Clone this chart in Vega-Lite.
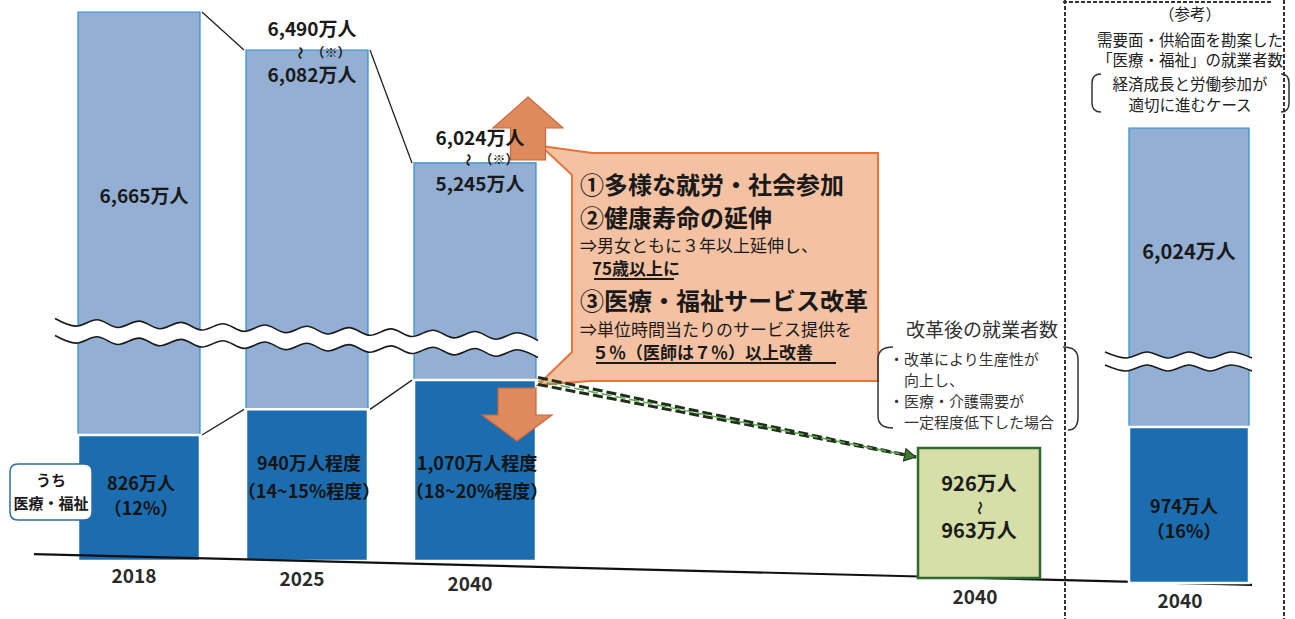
{
"$schema": "https://vega.github.io/schema/vega-lite/v6.json",
"width": 1295, "height": 619, "padding": 0, "autosize": {"type": "none"},
"background": "white",
"config": {"view": {"stroke": null}, "font": "Noto Sans CJK JP"},
"datasets": {
"bars": [{"slot":"2018","total":6665,"med":826},{"slot":"2025","total":6082,"med":940},{"slot":"2040","total":5245,"med":1070}],
"wavesM": [{"slot":"s1","up":2306,"lo":1932},{"slot":"s2","up":2138,"lo":1764},{"slot":"s3","up":2278,"lo":1904},{"slot":"s4","up":2109,"lo":1735},{"slot":"2018","up":2249,"lo":1875},{"slot":"s6","up":2081,"lo":1707},{"slot":"s7","up":2220,"lo":1847},{"slot":"s8","up":2052,"lo":1678},{"slot":"s9","up":2192,"lo":1818},{"slot":"s10","up":2023,"lo":1649},{"slot":"s11","up":2163,"lo":1789},{"slot":"s12","up":1995,"lo":1621},{"slot":"2025","up":2135,"lo":1761},{"slot":"s14","up":1966,"lo":1592},{"slot":"s15","up":2106,"lo":1732},{"slot":"s16","up":1937,"lo":1563},{"slot":"s17","up":2077,"lo":1704},{"slot":"s18","up":1909,"lo":1535},{"slot":"s19","up":2049,"lo":1675},{"slot":"s20","up":1880,"lo":1506},{"slot":"2040","up":2020,"lo":1646},{"slot":"s22","up":1851,"lo":1477},{"slot":"s23","up":1992,"lo":1618},{"slot":"s24","up":1822,"lo":1449}],
"links": [{"slot":"s8","slot2":"s10","v":6665,"v2":6082},{"slot":"s16","slot2":"s18","v":6082,"v2":5245},{"slot":"s8","slot2":"s10","v":826,"v2":940},{"slot":"s16","slot2":"s18","v":940,"v2":1070}],
"baseline": [{"slot":"s0","slot2":"s58","v":66,"v2":-227}],
"callout": [{"slot":"s33","v":3439}],
"arrowUp": [{"slot":"s24","v":5504}],
"arrowDown": [{"slot":"s23","v":915}],
"toReform": [{"slot":"s24","slot2":"s42","v":1066,"v2":728}],
"toReformHead": [{"slot":"s42","v":728}],
"lightLabels": [{"slot":"2018","v":4978,"t":"6,665万人"},{"slot":"2025","v":6389,"t":"6,490万人"},{"slot":"2025","v":5889,"t":"6,082万人"},{"slot":"2040","v":5422,"t":"6,024万人"},{"slot":"2040","v":5082,"t":"5,245万人"}],
"rangeTilde": [{"slot":"2025","v":6060,"t":"〜"},{"slot":"2040","v":5267,"t":"〜"}],
"rangeNote": [{"slot":"2025","v":6060,"t":"（※）"},{"slot":"2040","v":5267,"t":"（※）"}],
"darkLabels": [{"slot":"2018","v":604,"t":"826万人"},{"slot":"2018","v":484,"t":"（12%）"},{"slot":"2025","v":693,"t":"940万人程度"},{"slot":"2025","v":568,"t":"（14~15%程度）"},{"slot":"2040","v":693,"t":"1,070万人程度"},{"slot":"2040","v":568,"t":"（18~20%程度）"}],
"yearsM": [{"slot":"2018","v":-152,"t":"2018"},{"slot":"2025","v":-180,"t":"2025"},{"slot":"2040","v":-228,"t":"2040"}],
"calloutHead": [{"slot":"s26","v":5067,"t":"①多様な就労・社会参加"},{"slot":"s26","v":4472,"t":"②健康寿命の延伸"},{"slot":"s26","v":2647,"t":"③医療・福祉サービス改革"}],
"calloutBody": [{"slot":"s26","v":3878,"t":"⇒男女ともに３年以上延伸し、"},{"slot":"s26","v":2031,"t":"⇒単位時間当たりのサービス提供を"}],
"calloutEmph": [{"slot":"s26","v":3373,"t":"75歳以上に"},{"slot":"s26","v":1525,"t":"５％（医師は７％）以上改善"}],
"underline1": [{"slot":"s29","v":3175}],
"underline2": [{"slot":"s33","v":1328}],
"reformTitle": [{"slot":"2040改革後","v":2031,"t":"改革後の就業者数"}],
"reformBullets": [{"slot":"s41","v":1394,"t":"・改革により生産性が"},{"slot":"s41","v":973,"t":"・医療・介護需要が"}],
"reformCont": [{"slot":"s41","v":1066,"t":"向上し、"},{"slot":"s41","v":879,"t":"一定程度低下した場合"}],
"bracketL": [{"slot":"s41","v":1035}],
"bracketR": [{"slot":"s49","v":1035}],
"uchiBox": [{"slot":"s1","v":573}],
"uchiText": [{"slot":"s1","v":621,"t":"うち"},{"slot":"s1","v":519,"t":"医療・福祉"}],
"reform": [{"slot":"2040改革後","low":926,"high":963}],
"reformLabels": [{"slot":"2040改革後","v":689,"t":"926万人"},{"slot":"2040改革後","v":341,"t":"963万人"}],
"reformTilde": [{"slot":"2040改革後","v":519,"t":"〜"}],
"yearR": [{"slot":"2040改革後","v":-148,"t":"2040"}],
"refbar": [{"slot":"2040参考","total":6024,"med":974}],
"wavesF": [{"slot":"s51","up":2181,"lo":1880},{"slot":"s52","up":2042,"lo":1741},{"slot":"s53","up":2181,"lo":1880},{"slot":"s54","up":2042,"lo":1741},{"slot":"2040参考","up":2181,"lo":1880},{"slot":"s56","up":2042,"lo":1741},{"slot":"s57","up":2181,"lo":1880},{"slot":"s58","up":2042,"lo":1741}],
"refLight": [{"slot":"2040参考","v":4476,"t":"6,024万人"}],
"refDark": [{"slot":"2040参考","v":614,"t":"974万人"},{"slot":"2040参考","v":503,"t":"（16%）"}],
"yearF": [{"slot":"2040参考","v":-192,"t":"2040"}],
"refHeader": [{"slot":"2040参考","v":7154,"t":"（参考）"},{"slot":"2040参考","v":6894,"t":"需要面・供給面を勘案した"},{"slot":"2040参考","v":6694,"t":"「医療・福祉」の就業者数"},{"slot":"2040参考","v":6454,"t":"経済成長と労働参加が"},{"slot":"2040参考","v":6244,"t":"適切に進むケース"}],
"frameL": [{"slot":"s49"}],
"frameR": [{"slot":"s59"}],
"frameTop": [{"slot":"s49","slot2":"s59","v":7284}],
"refBracketL": [{"slot":"s51","v":6374}],
"refBracketR": [{"slot":"s59","v":6374}]
},
"encoding": {"x": {"field": "slot", "type": "ordinal", "sort": null, "axis": null,
  "scale": {"domain": ["s0","s1","s2","s3","s4","2018","s6","s7","s8","s9","s10","s11","s12","2025","s14","s15","s16","s17","s18","s19","s20","2040","s22","s23","s24","s25","s26","s27","s28","s29","s30","s31","s32","s33","s34","s35","s36","s37","s38","s39","s40","s41","s42","s43","s44","2040改革後","s46","s47","s48","s49","s50","s51","s52","s53","s54","2040参考","s56","s57","s58","s59"], "range": [23.5, 1283.5], "paddingInner": 0, "paddingOuter": 0}}},
"layer": [
{"layer": [
 {"data":{"name":"bars"},"mark":{"type":"bar","width":122,"fill":"#93afd4","stroke":"#2a8fcf","strokeWidth":1.2},"encoding":{"y":{"field":"total","type":"quantitative","axis":null,"scale":{"domain":[0,500,1100,5000,6082,7000],"range":[561,508.35,373.35,196,50,-9.8],"nice":false,"zero":false}},"y2":{"field":"med"}}},
 {"data":{"name":"bars"},"mark":{"type":"bar","width":122,"fill":"#1c6db0","stroke":"#ffffff","strokeWidth":2.5},"encoding":{"y":{"field":"med","type":"quantitative","axis":null,"scale":{"domain":[0,500,1100,5000,6082,7000],"range":[561,508.35,373.35,196,50,-9.8],"nice":false,"zero":false}},"y2":{"datum":0}}},
 {"data":{"name":"wavesM"},"mark":{"type":"area","interpolate":"monotone","fill":"#ffffff","opacity":1},"encoding":{"y":{"field":"up","type":"quantitative","axis":null,"scale":{"domain":[0,500,1100,5000,6082,7000],"range":[561,508.35,373.35,196,50,-9.8],"nice":false,"zero":false}},"y2":{"field":"lo"}}},
 {"data":{"name":"wavesM"},"mark":{"type":"line","interpolate":"monotone","stroke":"#1a1a1a","strokeWidth":1.6},"encoding":{"y":{"field":"up","type":"quantitative","axis":null,"scale":{"domain":[0,500,1100,5000,6082,7000],"range":[561,508.35,373.35,196,50,-9.8],"nice":false,"zero":false}}}},
 {"data":{"name":"wavesM"},"mark":{"type":"line","interpolate":"monotone","stroke":"#1a1a1a","strokeWidth":1.6},"encoding":{"y":{"field":"lo","type":"quantitative","axis":null,"scale":{"domain":[0,500,1100,5000,6082,7000],"range":[561,508.35,373.35,196,50,-9.8],"nice":false,"zero":false}}}},
 {"data":{"name":"links"},"mark":{"type":"rule","stroke":"#222222","strokeWidth":1.3},"encoding":{"x2":{"field":"slot2"},"y":{"field":"v","type":"quantitative","axis":null,"scale":{"domain":[0,500,1100,5000,6082,7000],"range":[561,508.35,373.35,196,50,-9.8],"nice":false,"zero":false}},"y2":{"field":"v2"}}},
 {"data":{"name":"baseline"},"mark":{"type":"rule","stroke":"#111111","strokeWidth":2.2},"encoding":{"x2":{"field":"slot2"},"y":{"field":"v","type":"quantitative","axis":null,"scale":{"domain":[0,500,1100,5000,6082,7000],"range":[561,508.35,373.35,196,50,-9.8],"nice":false,"zero":false}},"y2":{"field":"v2"}}},
 {"data":{"name":"callout"},"mark":{"type":"point","shape":"M-1.55,-0.92L-1.86,-1.21L-1.35,-1.14L1.51,-1.14L1.51,1.14L-1.37,1.14L-1.89,1.18L-1.55,0.85Z","size":40000,"filled":true,"fill":"#f4c2a3","stroke":"#e2743c","strokeWidth":2,"opacity":1},"encoding":{"y":{"field":"v","type":"quantitative","axis":null,"scale":{"domain":[0,500,1100,5000,6082,7000],"range":[561,508.35,373.35,196,50,-9.8],"nice":false,"zero":false}}}},
 {"data":{"name":"arrowUp"},"mark":{"type":"point","shape":"M0,-0.886L1,0L0.5,0L0.5,0.914L-0.5,0.914L-0.5,0L-1,0Z","size":4900,"filled":true,"fill":"#df8a5d","stroke":"#c9683a","strokeWidth":1.2,"opacity":1,"xOffset":-10},"encoding":{"y":{"field":"v","type":"quantitative","axis":null,"scale":{"domain":[0,500,1100,5000,6082,7000],"range":[561,508.35,373.35,196,50,-9.8],"nice":false,"zero":false}}}},
 {"data":{"name":"arrowDown"},"mark":{"type":"point","shape":"M0,0.743L1,0L0.543,0L0.543,-0.771L-0.543,-0.771L-0.543,0L-1,0Z","size":4900,"filled":true,"fill":"#df8a5d","stroke":"#c9683a","strokeWidth":1.2,"opacity":1},"encoding":{"y":{"field":"v","type":"quantitative","axis":null,"scale":{"domain":[0,500,1100,5000,6082,7000],"range":[561,508.35,373.35,196,50,-9.8],"nice":false,"zero":false}}}},
 {"data":{"name":"toReform"},"mark":{"type":"rule","stroke":"#1f2f1c","strokeWidth":3,"strokeDash":[10,4],"yOffset":-3.5},"encoding":{"x2":{"field":"slot2"},"y":{"field":"v","type":"quantitative","axis":null,"scale":{"domain":[0,500,1100,5000,6082,7000],"range":[561,508.35,373.35,196,50,-9.8],"nice":false,"zero":false}},"y2":{"field":"v2"}}},
 {"data":{"name":"toReform"},"mark":{"type":"rule","stroke":"#1f2f1c","strokeWidth":3,"strokeDash":[10,4],"yOffset":3.5},"encoding":{"x2":{"field":"slot2"},"y":{"field":"v","type":"quantitative","axis":null,"scale":{"domain":[0,500,1100,5000,6082,7000],"range":[561,508.35,373.35,196,50,-9.8],"nice":false,"zero":false}},"y2":{"field":"v2"}}},
 {"data":{"name":"toReform"},"mark":{"type":"rule","stroke":"#5fae4e","strokeWidth":1.5,"strokeDash":[10,4],"strokeDashOffset":5},"encoding":{"x2":{"field":"slot2"},"y":{"field":"v","type":"quantitative","axis":null,"scale":{"domain":[0,500,1100,5000,6082,7000],"range":[561,508.35,373.35,196,50,-9.8],"nice":false,"zero":false}},"y2":{"field":"v2"}}},
 {"data":{"name":"toReformHead"},"mark":{"type":"point","shape":"M0,0L-2.2,-1.2L-2.2,1.2Z","size":110,"filled":true,"fill":"#3f7a32","stroke":"#1f2f1c","strokeWidth":1,"opacity":1,"angle":11.4},"encoding":{"y":{"field":"v","type":"quantitative","axis":null,"scale":{"domain":[0,500,1100,5000,6082,7000],"range":[561,508.35,373.35,196,50,-9.8],"nice":false,"zero":false}}}},
 {"data":{"name":"lightLabels"},"mark":{"type":"text","fontSize":19,"fontWeight":"bold","baseline":"middle","align":"center","xOffset":5,"fill":"#1a1a1a"},"encoding":{"text":{"field":"t"},"y":{"field":"v","type":"quantitative","axis":null,"scale":{"domain":[0,500,1100,5000,6082,7000],"range":[561,508.35,373.35,196,50,-9.8],"nice":false,"zero":false}}}},
 {"data":{"name":"rangeTilde"},"mark":{"type":"text","fontSize":13,"fontWeight":"bold","baseline":"middle","align":"center","angle":90,"xOffset":-7,"fill":"#1a1a1a"},"encoding":{"text":{"field":"t"},"y":{"field":"v","type":"quantitative","axis":null,"scale":{"domain":[0,500,1100,5000,6082,7000],"range":[561,508.35,373.35,196,50,-9.8],"nice":false,"zero":false}}}},
 {"data":{"name":"rangeNote"},"mark":{"type":"text","fontSize":13,"fontWeight":"bold","baseline":"middle","align":"center","xOffset":24,"fill":"#1a1a1a"},"encoding":{"text":{"field":"t"},"y":{"field":"v","type":"quantitative","axis":null,"scale":{"domain":[0,500,1100,5000,6082,7000],"range":[561,508.35,373.35,196,50,-9.8],"nice":false,"zero":false}}}},
 {"data":{"name":"darkLabels"},"mark":{"type":"text","fontSize":18,"fontWeight":"bold","baseline":"middle","align":"center","xOffset":2,"fill":"#141414"},"encoding":{"text":{"field":"t"},"y":{"field":"v","type":"quantitative","axis":null,"scale":{"domain":[0,500,1100,5000,6082,7000],"range":[561,508.35,373.35,196,50,-9.8],"nice":false,"zero":false}}}},
 {"data":{"name":"yearsM"},"mark":{"type":"text","fontSize":19,"fontWeight":"bold","baseline":"middle","align":"center","xOffset":-5,"fill":"#2a2a2a"},"encoding":{"text":{"field":"t"},"y":{"field":"v","type":"quantitative","axis":null,"scale":{"domain":[0,500,1100,5000,6082,7000],"range":[561,508.35,373.35,196,50,-9.8],"nice":false,"zero":false}}}},
 {"data":{"name":"calloutHead"},"mark":{"type":"text","fontSize":24,"fontWeight":"bold","baseline":"middle","align":"left","fill":"#1a1a1a"},"encoding":{"text":{"field":"t"},"y":{"field":"v","type":"quantitative","axis":null,"scale":{"domain":[0,500,1100,5000,6082,7000],"range":[561,508.35,373.35,196,50,-9.8],"nice":false,"zero":false}}}},
 {"data":{"name":"calloutBody"},"mark":{"type":"text","fontSize":17,"baseline":"middle","align":"left","fill":"#1a1a1a"},"encoding":{"text":{"field":"t"},"y":{"field":"v","type":"quantitative","axis":null,"scale":{"domain":[0,500,1100,5000,6082,7000],"range":[561,508.35,373.35,196,50,-9.8],"nice":false,"zero":false}}}},
 {"data":{"name":"calloutEmph"},"mark":{"type":"text","fontSize":17,"fontWeight":"bold","baseline":"middle","align":"left","xOffset":12,"fill":"#1a1a1a"},"encoding":{"text":{"field":"t"},"y":{"field":"v","type":"quantitative","axis":null,"scale":{"domain":[0,500,1100,5000,6082,7000],"range":[561,508.35,373.35,196,50,-9.8],"nice":false,"zero":false}}}},
 {"data":{"name":"underline1"},"mark":{"type":"point","shape":"M-1,0L1,0","size":6400,"filled":false,"stroke":"#1a1a1a","strokeWidth":1.8,"opacity":1,"xOffset":-9},"encoding":{"y":{"field":"v","type":"quantitative","axis":null,"scale":{"domain":[0,500,1100,5000,6082,7000],"range":[561,508.35,373.35,196,50,-9.8],"nice":false,"zero":false}}}},
 {"data":{"name":"underline2"},"mark":{"type":"point","shape":"M-1,0L1,0","size":57600,"filled":false,"stroke":"#1a1a1a","strokeWidth":1.8,"opacity":1,"xOffset":-11},"encoding":{"y":{"field":"v","type":"quantitative","axis":null,"scale":{"domain":[0,500,1100,5000,6082,7000],"range":[561,508.35,373.35,196,50,-9.8],"nice":false,"zero":false}}}},
 {"data":{"name":"reformTitle"},"mark":{"type":"text","fontSize":19,"baseline":"middle","align":"center","xOffset":3,"fill":"#333333"},"encoding":{"text":{"field":"t"},"y":{"field":"v","type":"quantitative","axis":null,"scale":{"domain":[0,500,1100,5000,6082,7000],"range":[561,508.35,373.35,196,50,-9.8],"nice":false,"zero":false}}}},
 {"data":{"name":"reformBullets"},"mark":{"type":"text","fontSize":15,"baseline":"middle","align":"left","xOffset":-6,"fill":"#333333"},"encoding":{"text":{"field":"t"},"y":{"field":"v","type":"quantitative","axis":null,"scale":{"domain":[0,500,1100,5000,6082,7000],"range":[561,508.35,373.35,196,50,-9.8],"nice":false,"zero":false}}}},
 {"data":{"name":"reformCont"},"mark":{"type":"text","fontSize":15,"baseline":"middle","align":"left","xOffset":9,"fill":"#333333"},"encoding":{"text":{"field":"t"},"y":{"field":"v","type":"quantitative","axis":null,"scale":{"domain":[0,500,1100,5000,6082,7000],"range":[561,508.35,373.35,196,50,-9.8],"nice":false,"zero":false}}}},
 {"data":{"name":"bracketL"},"mark":{"type":"point","shape":"M-0.2,-4.1Q-1.7,-4.1 -1.7,-2.9L-1.7,2.8Q-1.7,4.0 -0.2,4.0","size":400,"filled":false,"stroke":"#333333","strokeWidth":1.5,"opacity":1},"encoding":{"y":{"field":"v","type":"quantitative","axis":null,"scale":{"domain":[0,500,1100,5000,6082,7000],"range":[561,508.35,373.35,196,50,-9.8],"nice":false,"zero":false}}}},
 {"data":{"name":"bracketR"},"mark":{"type":"point","shape":"M0,-4.1Q1.5,-4.1 1.5,-2.9L1.5,2.9Q1.5,4.2 0.5,4.2","size":400,"filled":false,"stroke":"#333333","strokeWidth":1.5,"opacity":1},"encoding":{"y":{"field":"v","type":"quantitative","axis":null,"scale":{"domain":[0,500,1100,5000,6082,7000],"range":[561,508.35,373.35,196,50,-9.8],"nice":false,"zero":false}}}},
 {"data":{"name":"uchiBox"},"mark":{"type":"point","shape":"M-3.3,-2.8L3.3,-2.8Q4.1,-2.8 4.1,-2.0L4.1,2.0Q4.1,2.8 3.3,2.8L-3.3,2.8Q-4.1,2.8 -4.1,2.0L-4.1,-2.0Q-4.1,-2.8 -3.3,-2.8Z","size":400,"filled":true,"fill":"#ffffff","stroke":"#2d6ea8","strokeWidth":1.5,"opacity":1,"xOffset":-4},"encoding":{"y":{"field":"v","type":"quantitative","axis":null,"scale":{"domain":[0,500,1100,5000,6082,7000],"range":[561,508.35,373.35,196,50,-9.8],"nice":false,"zero":false}}}},
 {"data":{"name":"uchiText"},"mark":{"type":"text","fontSize":15,"fontWeight":"bold","baseline":"middle","align":"center","xOffset":-4,"fill":"#1a1a1a"},"encoding":{"text":{"field":"t"},"y":{"field":"v","type":"quantitative","axis":null,"scale":{"domain":[0,500,1100,5000,6082,7000],"range":[561,508.35,373.35,196,50,-9.8],"nice":false,"zero":false}}}}
]},
{"layer": [
 {"data":{"name":"reform"},"mark":{"type":"bar","width":122,"fill":"#d7dfa9","stroke":"#2e6a2e","strokeWidth":2.5},"encoding":{"y":{"field":"high","type":"quantitative","axis":null,"scale":{"domain":[0,1000],"range":[578,443],"nice":false,"zero":false}},"y2":{"datum":0}}},
 {"data":{"name":"reformLabels"},"mark":{"type":"text","fontSize":20,"fontWeight":"bold","baseline":"middle","align":"center","fill":"#1a1a1a"},"encoding":{"text":{"field":"t"},"y":{"field":"v","type":"quantitative","axis":null,"scale":{"domain":[0,1000],"range":[578,443],"nice":false,"zero":false}}}},
 {"data":{"name":"reformTilde"},"mark":{"type":"text","fontSize":14,"fontWeight":"bold","baseline":"middle","align":"center","angle":90,"fill":"#1a1a1a"},"encoding":{"text":{"field":"t"},"y":{"field":"v","type":"quantitative","axis":null,"scale":{"domain":[0,1000],"range":[578,443],"nice":false,"zero":false}}}},
 {"data":{"name":"yearR"},"mark":{"type":"text","fontSize":19,"fontWeight":"bold","baseline":"middle","align":"center","xOffset":-4,"fill":"#2a2a2a"},"encoding":{"text":{"field":"t"},"y":{"field":"v","type":"quantitative","axis":null,"scale":{"domain":[0,1000],"range":[578,443],"nice":false,"zero":false}}}}
]},
{"layer": [
 {"data":{"name":"refbar"},"mark":{"type":"bar","width":120,"fill":"#93afd4","stroke":"#2a8fcf","strokeWidth":1.2},"encoding":{"y":{"field":"total","type":"quantitative","axis":null,"scale":{"domain":[0,500,1100,5000,7000],"range":[583,533.65,398.65,230.4,30.4],"nice":false,"zero":false}},"y2":{"field":"med"}}},
 {"data":{"name":"refbar"},"mark":{"type":"bar","width":120,"fill":"#1c6db0","stroke":"#ffffff","strokeWidth":2.5},"encoding":{"y":{"field":"med","type":"quantitative","axis":null,"scale":{"domain":[0,500,1100,5000,7000],"range":[583,533.65,398.65,230.4,30.4],"nice":false,"zero":false}},"y2":{"datum":0}}},
 {"data":{"name":"wavesF"},"mark":{"type":"area","interpolate":"monotone","fill":"#ffffff","opacity":1},"encoding":{"y":{"field":"up","type":"quantitative","axis":null,"scale":{"domain":[0,500,1100,5000,7000],"range":[583,533.65,398.65,230.4,30.4],"nice":false,"zero":false}},"y2":{"field":"lo"}}},
 {"data":{"name":"wavesF"},"mark":{"type":"line","interpolate":"monotone","stroke":"#1a1a1a","strokeWidth":1.6},"encoding":{"y":{"field":"up","type":"quantitative","axis":null,"scale":{"domain":[0,500,1100,5000,7000],"range":[583,533.65,398.65,230.4,30.4],"nice":false,"zero":false}}}},
 {"data":{"name":"wavesF"},"mark":{"type":"line","interpolate":"monotone","stroke":"#1a1a1a","strokeWidth":1.6},"encoding":{"y":{"field":"lo","type":"quantitative","axis":null,"scale":{"domain":[0,500,1100,5000,7000],"range":[583,533.65,398.65,230.4,30.4],"nice":false,"zero":false}}}},
 {"data":{"name":"frameL"},"mark":{"type":"rule","stroke":"#333333","strokeWidth":2,"strokeDash":[4,2],"xOffset":2}},
 {"data":{"name":"frameR"},"mark":{"type":"rule","stroke":"#333333","strokeWidth":2,"strokeDash":[4,2],"xOffset":11}},
 {"data":{"name":"frameTop"},"mark":{"type":"rule","stroke":"#333333","strokeWidth":2,"strokeDash":[4,2]},"encoding":{"x2":{"field":"slot2"},"y":{"field":"v","type":"quantitative","axis":null,"scale":{"domain":[0,500,1100,5000,7000],"range":[583,533.65,398.65,230.4,30.4],"nice":false,"zero":false}}}},
 {"data":{"name":"refLight"},"mark":{"type":"text","fontSize":20,"fontWeight":"bold","baseline":"middle","align":"center","fill":"#1a1a1a"},"encoding":{"text":{"field":"t"},"y":{"field":"v","type":"quantitative","axis":null,"scale":{"domain":[0,500,1100,5000,7000],"range":[583,533.65,398.65,230.4,30.4],"nice":false,"zero":false}}}},
 {"data":{"name":"refDark"},"mark":{"type":"text","fontSize":18,"fontWeight":"bold","baseline":"middle","align":"center","xOffset":-5,"fill":"#141414"},"encoding":{"text":{"field":"t"},"y":{"field":"v","type":"quantitative","axis":null,"scale":{"domain":[0,500,1100,5000,7000],"range":[583,533.65,398.65,230.4,30.4],"nice":false,"zero":false}}}},
 {"data":{"name":"yearF"},"mark":{"type":"text","fontSize":19,"fontWeight":"bold","baseline":"middle","align":"center","xOffset":-9,"fill":"#2a2a2a"},"encoding":{"text":{"field":"t"},"y":{"field":"v","type":"quantitative","axis":null,"scale":{"domain":[0,500,1100,5000,7000],"range":[583,533.65,398.65,230.4,30.4],"nice":false,"zero":false}}}},
 {"data":{"name":"refHeader"},"mark":{"type":"text","fontSize":15.5,"baseline":"middle","align":"center","xOffset":1,"fill":"#222222"},"encoding":{"text":{"field":"t"},"y":{"field":"v","type":"quantitative","axis":null,"scale":{"domain":[0,500,1100,5000,7000],"range":[583,533.65,398.65,230.4,30.4],"nice":false,"zero":false}}}},
 {"data":{"name":"refBracketL"},"mark":{"type":"point","shape":"M-0.4,-1.9Q-1.3,-1.9 -1.3,-1.0L-1.3,1.0Q-1.3,1.9 -0.4,1.9","size":400,"filled":false,"stroke":"#333333","strokeWidth":1.5,"opacity":1},"encoding":{"y":{"field":"v","type":"quantitative","axis":null,"scale":{"domain":[0,500,1100,5000,7000],"range":[583,533.65,398.65,230.4,30.4],"nice":false,"zero":false}}}},
 {"data":{"name":"refBracketR"},"mark":{"type":"point","shape":"M0.8,-1.9Q1.6,-1.9 1.6,-1.0L1.6,1.0Q1.6,1.9 0.8,1.9","size":400,"filled":false,"stroke":"#333333","strokeWidth":1.5,"opacity":1},"encoding":{"y":{"field":"v","type":"quantitative","axis":null,"scale":{"domain":[0,500,1100,5000,7000],"range":[583,533.65,398.65,230.4,30.4],"nice":false,"zero":false}}}}
]}
],
"resolve": {"scale": {"y": "independent"}}
}
